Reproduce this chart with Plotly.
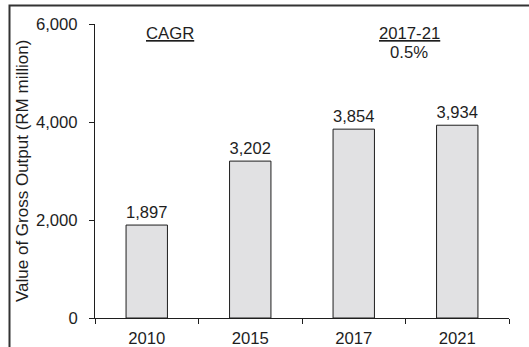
import plotly.graph_objects as go

# Gross output by year (RM million)
years = ["2010", "2015", "2017", "2021"]
gross_output = [1897, 3202, 3854, 3934]
value_labels = ["1,897", "3,202", "3,854", "3,934"]

y_ticks = [0, 2000, 4000, 6000]
y_tick_text = ["0", "2,000", "4,000", "6,000"]

cagr_period = "2017-21"
cagr_value = "0.5%"
y_title = "Value of Gross Output (RM million)"

W, H = 529, 347
L, R, T, B = 95, 20, 24, 29
PW, PH = W - L - R, H - T - B


def px_x(x):
    return (x - L) / PW


def px_y(y):
    return (H - B - y) / PH


FONT = "Liberation Sans, Arial, sans-serif"
INK = "#1e1e1e"
FS = 16.7


def note(text, x, y, size=FS, angle=0):
    return dict(
        text=text,
        textangle=angle,
        xref="paper",
        yref="paper",
        x=px_x(x),
        y=px_y(y),
        xanchor="center",
        yanchor="middle",
        showarrow=False,
        font=dict(family=FONT, size=size, color=INK),
    )


fig = go.Figure(
    go.Bar(
        x=years,
        y=gross_output,
        width=0.4,
        marker=dict(color="#e1e1e3", line=dict(color=INK, width=1)),
        text=value_labels,
        textposition="outside",
        textfont=dict(family=FONT, size=FS, color=INK),
        cliponaxis=False,
    )
)

fig.update_layout(
    width=W,
    height=H,
    margin=dict(l=L, r=R, t=T, b=B, autoexpand=False),
    paper_bgcolor="white",
    plot_bgcolor="white",
    showlegend=False,
    font=dict(family=FONT, size=FS, color=INK),
    xaxis=dict(
        type="category",
        automargin=False,
        showline=True,
        linecolor=INK,
        linewidth=1,
        ticks="outside",
        tickson="boundaries",
        ticklen=5,
        tickcolor=INK,
        showgrid=False,
        ticklabelstandoff=5,
        tickfont=dict(family=FONT, size=FS, color=INK),
    ),
    yaxis=dict(
        range=[0, 6000],
        automargin=False,
        tickvals=y_ticks,
        ticktext=y_tick_text,
        showline=True,
        linecolor=INK,
        linewidth=1,
        ticks="outside",
        ticklen=5,
        tickcolor=INK,
        showgrid=False,
        zeroline=False,
        ticklabelstandoff=8,
        tickfont=dict(family=FONT, size=FS, color=INK),
    ),
    shapes=[
        dict(
            type="rect",
            xref="paper",
            yref="paper",
            x0=px_x(9.5),
            x1=px_x(560),
            y0=px_y(380),
            y1=px_y(5.5),
            line=dict(color="#333333", width=2),
            fillcolor="rgba(0,0,0,0)",
            layer="below",
        )
    ],
    annotations=[
        note(y_title, 22, 171, size=17, angle=-90),
        note("<u>CAGR</u>", 170, 33),
        note("<u>" + cagr_period + "</u>", 409, 33),
        note(cagr_value, 409, 52),
    ],
)

fig.write_html("out.html")
